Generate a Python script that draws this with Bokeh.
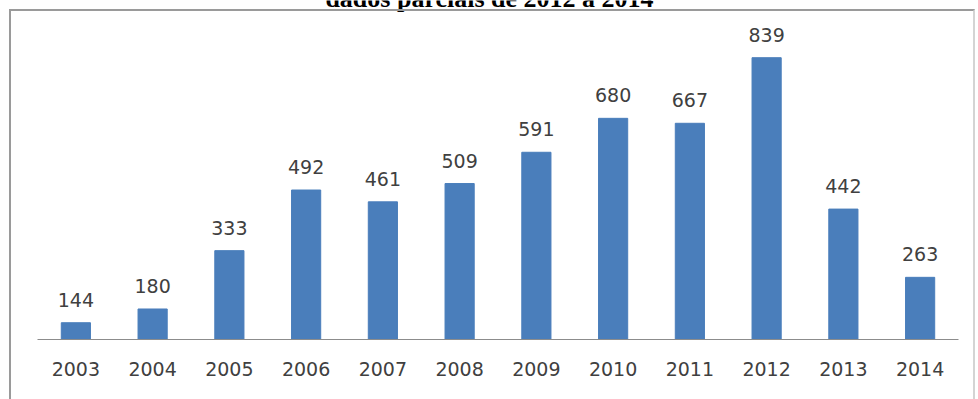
from bokeh.plotting import figure
from bokeh.models import ColumnDataSource, LabelSet, Label, Range1d, FactorRange, InlineStyleSheet
from bokeh.core.properties import value
from bokeh.embed import file_html
from bokeh.resources import INLINE

years = ["2003", "2004", "2005", "2006", "2007", "2008", "2009", "2010", "2011", "2012", "2013", "2014"]
counts = [144, 180, 333, 492, 461, 509, 591, 680, 667, 839, 442, 263]
title_text = "dados parciais de 2012 a 2014"

src = ColumnDataSource(data=dict(year=years, count=counts, label=[str(c) for c in counts]))

frame_css = InlineStyleSheet(css="""
:host { position: relative; overflow: hidden; }
:host::after {
  content: ""; position: absolute; left: 9px; top: 9px; width: 966px; height: 420px;
  border: 2px solid #9a9a9a; border-right-color: #d4d4d4; box-sizing: border-box;
  pointer-events: none; z-index: 10;
}
""")

p = figure(width=978, height=399, output_backend="svg", toolbar_location=None,
           x_range=FactorRange(factors=years, range_padding=0),
           y_range=Range1d(100, 989),
           min_border_left=37, min_border_right=20, min_border_top=0, min_border_bottom=60,
           stylesheets=[frame_css])
p.outline_line_color = None
p.background_fill_color = "white"
p.border_fill_color = "white"
p.xgrid.visible = False
p.ygrid.visible = False
p.yaxis.visible = False

p.vbar(x="year", top="count", bottom=100, width=0.38, source=src,
       fill_color="#4a7ebb", line_color="#4a7ebb")

labels = LabelSet(x="year", y="count", text="label", source=src, y_offset=16,
                  text_align="center", text_baseline="alphabetic",
                  text_font=value("DejaVu Sans"), text_font_size="19px", text_color="#404040")
p.add_layout(labels)

ax = p.xaxis[0]
ax.axis_line_color = "#8c8c8c"
ax.axis_line_width = 1
ax.major_tick_line_color = None
ax.minor_tick_line_color = None
ax.major_tick_out = 0
ax.major_tick_in = 0
ax.major_label_standoff = 22
ax.major_label_text_font = "DejaVu Sans"
ax.major_label_text_font_size = "19px"
ax.major_label_text_color = "#404040"

t = Label(x=452, y=341, x_units="screen", y_units="screen", text=title_text,
          text_align="center", text_baseline="alphabetic",
          text_font="Liberation Serif", text_font_style="bold", text_font_size="26px",
          text_color="black")
p.add_layout(t)

open("out.html", "w").write(file_html(p, INLINE))
